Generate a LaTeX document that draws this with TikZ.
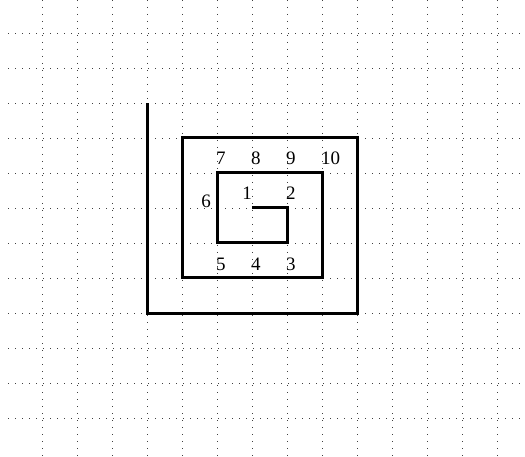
\documentclass[tikz,border=0pt]{standalone}
\usepackage{fontspec}
\setmainfont{Liberation Serif}
\begin{document}
\begin{tikzpicture}[x=1pt,y=-1pt,
  gridline/.style={black!75,line width=0.9pt,dash pattern=on 1pt off 6pt},
  spiral/.style={black,line width=3pt,line join=miter,line cap=butt},
  num/.style={inner sep=0pt,font=\fontsize{19}{21}\selectfont}]
\useasboundingbox (0,0) rectangle (525,457);
% grid
\foreach \k in {0,...,11}{
  \draw[gridline] (8,{33+35*\k}) -- (525,{33+35*\k});
}
\foreach \k in {0,...,13}{
  \draw[gridline] ({42+35*\k},0) -- ({42+35*\k},457);
}
% spiral points
\coordinate (p0) at (252,208);
\coordinate (p1) at (287,208);
\coordinate (p2) at (287,243);
\coordinate (p3) at (217,243);
\coordinate (p4) at (217,173);
\coordinate (p5) at (322,173);
\coordinate (p6) at (322,278);
\coordinate (p7) at (182,278);
\coordinate (p8) at (182,138);
\coordinate (p9) at (357,138);
\coordinate (p10) at (357,313);
\coordinate (p11) at (147,313);
\coordinate (p12) at (147,103);
\draw[spiral] (p0) -- (p1) -- (p2) -- (p3) -- (p4) -- (p5) -- (p6) -- (p7) -- (p8) -- (p9) -- (p10) -- (p11) -- (p12);
% labels
\node[num,anchor=base east] (l1) at (252,200) {1};
\node[num,anchor=base west] (l2) at (286,200) {2};
\node[num,anchor=base west] (l3) at (286,270) {3};
\node[num,anchor=base west] (l4) at (251,270) {4};
\node[num,anchor=base west] (l5) at (216,270) {5};
\node[num,anchor=base east] (l6) at (211,208) {6};
\node[num,anchor=base west] (l7) at (216,165) {7};
\node[num,anchor=base west] (l8) at (251,165) {8};
\node[num,anchor=base west] (l9) at (286,165) {9};
\node[num,anchor=base west] (l10) at (321,165) {10};
\end{tikzpicture}
\end{document}
